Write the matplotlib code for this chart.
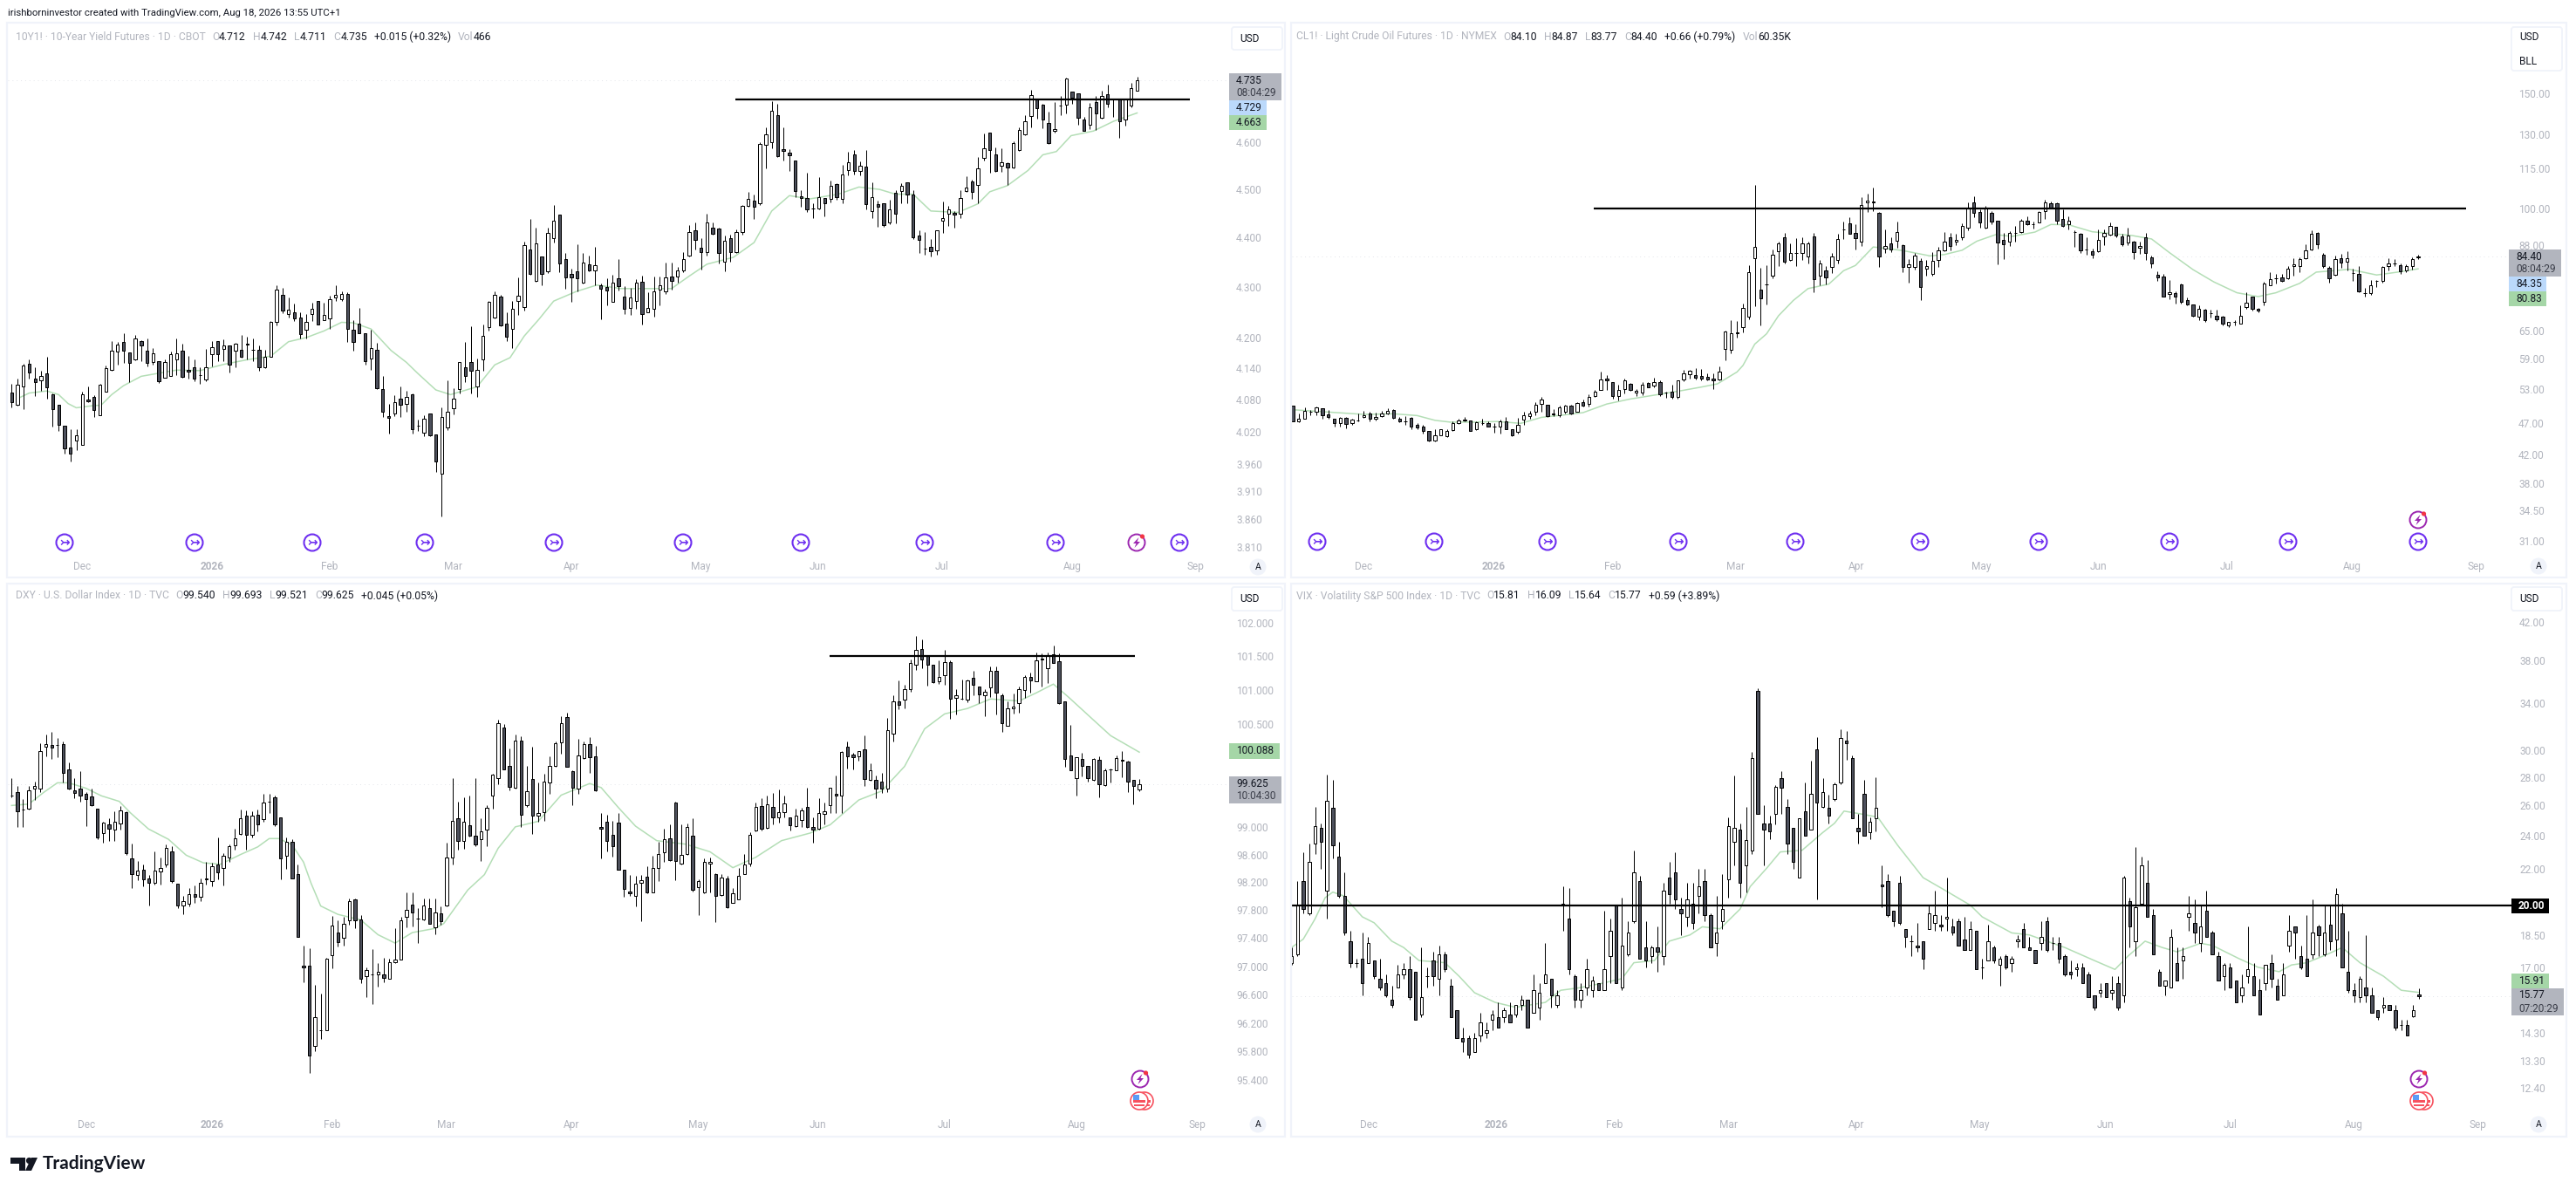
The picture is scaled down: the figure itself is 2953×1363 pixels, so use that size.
import numpy as np
import matplotlib
matplotlib.use('Agg')
import matplotlib.pyplot as plt
from matplotlib.patches import Circle, Rectangle, FancyBboxPatch, Polygon
from matplotlib.transforms import Affine2D
from matplotlib.ticker import NullFormatter, NullLocator

# candles: (open, high, low, close)
yield_bars = [
    (4.094,4.110,4.066,4.075),(4.071,4.121,4.069,4.109),(4.105,4.149,4.062,4.145),(4.149,4.158,4.120,4.133),
    (4.121,4.143,4.087,4.114),(4.117,4.135,4.098,4.126),(4.130,4.163,4.083,4.104),(4.091,4.093,4.029,4.062),
    (4.071,4.071,4.022,4.033),(4.032,4.032,3.980,3.989),(3.991,4.025,3.964,3.980),(4.004,4.024,3.985,4.014),
    (3.996,4.095,3.996,4.091),(4.081,4.105,4.075,4.078),(4.086,4.089,4.048,4.060),(4.051,4.111,4.051,4.109),
    (4.095,4.145,4.095,4.140),(4.138,4.193,4.136,4.174),(4.173,4.191,4.147,4.186),(4.191,4.208,4.151,4.175),
    (4.171,4.171,4.114,4.151),(4.158,4.205,4.156,4.199),(4.193,4.195,4.155,4.184),(4.174,4.199,4.144,4.151),
    (4.153,4.180,4.147,4.169),(4.154,4.154,4.112,4.115),(4.122,4.157,4.122,4.152),(4.126,4.172,4.126,4.168),
    (4.158,4.199,4.127,4.169),(4.174,4.188,4.123,4.124),(4.137,4.164,4.120,4.134),(4.143,4.158,4.115,4.121),
    (4.128,4.143,4.110,4.128),(4.119,4.178,4.116,4.143),(4.168,4.193,4.144,4.182),(4.193,4.193,4.154,4.168),
    (4.178,4.196,4.154,4.184),(4.184,4.185,4.133,4.148),(4.175,4.189,4.143,4.188),(4.176,4.205,4.161,4.163),
    (4.188,4.202,4.158,4.186),(4.176,4.198,4.154,4.176),(4.176,4.185,4.136,4.143),(4.143,4.176,4.141,4.162),
    (4.163,4.232,4.163,4.231),(4.230,4.304,4.224,4.295),(4.285,4.299,4.248,4.253),(4.247,4.279,4.239,4.255),
    (4.249,4.267,4.232,4.238),(4.240,4.250,4.198,4.207),(4.216,4.247,4.198,4.230),(4.247,4.269,4.233,4.257),
    (4.273,4.273,4.226,4.226),(4.235,4.268,4.234,4.245),(4.238,4.283,4.217,4.276),(4.280,4.304,4.272,4.285),
    (4.276,4.292,4.272,4.286),(4.287,4.290,4.192,4.217),(4.216,4.234,4.175,4.191),(4.228,4.258,4.208,4.209),
    (4.209,4.209,4.148,4.155),(4.159,4.216,4.137,4.179),(4.177,4.190,4.101,4.103),(4.101,4.125,4.048,4.057),
    (4.049,4.072,4.017,4.046),(4.055,4.089,4.049,4.076),(4.083,4.105,4.048,4.071),(4.073,4.098,4.058,4.086),
    (4.091,4.093,4.016,4.024),(4.031,4.043,4.022,4.031),(4.018,4.051,4.012,4.045),(4.054,4.055,4.012,4.014),
    (4.015,4.015,3.945,3.964),(3.943,4.066,3.865,4.047),(4.028,4.117,4.023,4.057),(4.064,4.102,4.052,4.083),
    (4.101,4.153,4.093,4.152),(4.142,4.192,4.114,4.125),(4.152,4.222,4.092,4.136),(4.105,4.160,4.085,4.138),
    (4.158,4.225,4.136,4.204),(4.221,4.273,4.214,4.271),(4.239,4.291,4.237,4.285),(4.281,4.285,4.223,4.224),
    (4.228,4.249,4.193,4.201),(4.217,4.272,4.180,4.257),(4.273,4.319,4.245,4.283),(4.261,4.392,4.253,4.385),
    (4.376,4.439,4.325,4.327),(4.312,4.420,4.311,4.388),(4.361,4.361,4.304,4.326),(4.331,4.420,4.329,4.409),
    (4.399,4.468,4.390,4.435),(4.447,4.447,4.330,4.348),(4.357,4.368,4.296,4.319),(4.326,4.337,4.270,4.319),
    (4.331,4.387,4.292,4.318),(4.309,4.368,4.307,4.350),(4.345,4.363,4.332,4.333),(4.333,4.381,4.304,4.344),
    (4.304,4.307,4.236,4.297),(4.300,4.318,4.264,4.293),(4.271,4.325,4.270,4.308),(4.317,4.357,4.294,4.302),
    (4.281,4.302,4.247,4.257),(4.259,4.298,4.245,4.279),(4.273,4.316,4.257,4.308),(4.311,4.323,4.226,4.247),
    (4.250,4.289,4.250,4.259),(4.256,4.321,4.241,4.292),(4.295,4.321,4.264,4.303),(4.291,4.350,4.287,4.319),
    (4.321,4.350,4.295,4.312),(4.322,4.341,4.308,4.334),(4.334,4.370,4.330,4.357),(4.364,4.426,4.362,4.412),
    (4.415,4.431,4.375,4.395),(4.379,4.399,4.335,4.370),(4.370,4.450,4.364,4.432),(4.421,4.432,4.406,4.408),
    (4.419,4.421,4.347,4.369),(4.351,4.405,4.332,4.394),(4.399,4.406,4.351,4.370),(4.370,4.417,4.369,4.412),
    (4.412,4.468,4.406,4.465),(4.465,4.494,4.463,4.480),(4.477,4.490,4.438,4.464),(4.471,4.600,4.467,4.597),
    (4.594,4.632,4.544,4.617),(4.600,4.689,4.587,4.668),(4.658,4.683,4.569,4.571),(4.586,4.632,4.561,4.581),
    (4.577,4.586,4.538,4.572),(4.561,4.561,4.484,4.496),(4.485,4.498,4.463,4.482),(4.482,4.536,4.453,4.458),
    (4.461,4.471,4.441,4.461),(4.461,4.525,4.459,4.484),(4.482,4.482,4.444,4.471),(4.480,4.519,4.473,4.507),
    (4.511,4.513,4.478,4.484),(4.480,4.552,4.471,4.532),(4.541,4.579,4.530,4.558),(4.573,4.583,4.532,4.538),
    (4.539,4.559,4.529,4.550),(4.548,4.583,4.458,4.469),(4.455,4.514,4.441,4.484),(4.469,4.476,4.423,4.463),
    (4.471,4.471,4.423,4.426),(4.432,4.478,4.428,4.458),(4.493,4.498,4.429,4.450),(4.496,4.513,4.471,4.507),
    (4.514,4.514,4.471,4.490),(4.489,4.498,4.397,4.400),(4.404,4.415,4.369,4.395),(4.378,4.412,4.365,4.378),
    (4.381,4.397,4.362,4.373),(4.374,4.415,4.366,4.415),(4.435,4.475,4.410,4.440),(4.449,4.465,4.425,4.458),
    (4.451,4.455,4.421,4.448),(4.450,4.498,4.441,4.482),(4.497,4.527,4.494,4.504),(4.517,4.521,4.480,4.495),
    (4.509,4.569,4.471,4.544),(4.567,4.618,4.561,4.587),(4.620,4.620,4.536,4.583),(4.574,4.588,4.537,4.538),
    (4.549,4.587,4.537,4.558),(4.555,4.557,4.510,4.547),(4.546,4.602,4.544,4.598),(4.583,4.632,4.581,4.626),
    (4.616,4.658,4.615,4.645),(4.656,4.713,4.632,4.702),(4.694,4.695,4.650,4.674),(4.681,4.682,4.630,4.648),
    (4.641,4.665,4.596,4.598),(4.624,4.686,4.621,4.629),(4.679,4.700,4.658,4.679),(4.681,4.741,4.662,4.739),
    (4.710,4.710,4.683,4.697),(4.706,4.706,4.638,4.652),(4.649,4.654,4.624,4.625),(4.637,4.685,4.629,4.675),
    (4.687,4.700,4.626,4.662),(4.652,4.712,4.650,4.700),(4.704,4.724,4.676,4.682),(4.693,4.695,4.654,4.693),
    (4.693,4.693,4.610,4.645),(4.648,4.693,4.636,4.693),(4.679,4.728,4.676,4.717),(4.712,4.742,4.711,4.735),
]
yield_ema_x = [1.5,3,6,8,9.6,11,13.8,15.2,17,19,22,25,28,32,36,40,44,47,50,53,56,58,61,64.4,67,69,72,74.5,79,82,84.6,87,89.5,92,95.8,99.3,103.5,107,
               112,115,118,122.5,126,129,132,135.4,140.3,143.8,147.3,150,153,156,160.6,164,166,169,172.5,175,177.3,179.8,183.6,187,191]
yield_ema = [4.085,4.093,4.097,4.090,4.073,4.065,4.069,4.070,4.090,4.107,4.125,4.131,4.137,4.136,4.148,4.157,4.164,4.192,4.200,4.213,4.230,4.229,4.217,4.175,4.152,4.130,4.099,4.090,4.105,4.147,4.161,4.203,4.236,4.272,4.291,4.304,4.297,4.297,
             4.297,4.322,4.346,4.36,4.39,4.455,4.487,4.48,4.49,4.505,4.50,4.49,4.49,4.455,4.452,4.47,4.495,4.508,4.54,4.573,4.58,4.614,4.624,4.645,4.663]

oil_bars = [
    (49.9,49.9,47.2,47.3),(47.3,48.6,47.1,47.6),(47.6,49.6,47.6,49.0),(48.8,49.2,48.3,48.9),(48.8,49.8,48.3,49.6),
    (49.4,49.5,47.7,48.2),(48.4,49.1,47.6,47.9),(47.7,47.7,46.4,47.0),(47.0,48.0,46.4,47.8),(47.8,47.9,46.1,46.8),
    (47.0,47.7,46.7,47.5),(47.4,48.5,47.2,47.4),(48.0,49.0,47.8,48.2),(48.6,48.8,47.2,47.6),(47.6,48.7,47.4,48.0),
    (48.1,49.0,48.0,48.6),(48.6,49.5,48.4,49.0),(49.1,49.3,47.7,47.8),(47.7,47.9,47.1,47.2),(47.3,48.1,46.6,47.3),
    (47.8,47.9,46.0,46.4),(46.7,46.9,46.0,46.2),(46.4,46.6,45.3,45.7),(45.6,45.6,44.0,44.2),(44.1,46.0,44.0,44.9),
    (45.0,46.0,44.9,45.9),(44.8,46.0,44.7,45.6),(45.8,47.2,45.6,47.0),(47.0,47.7,46.8,47.4),(47.4,47.9,47.2,47.5),
    (47.4,47.4,45.7,45.7),(45.9,47.3,45.8,47.1),(47.0,47.7,46.7,47.0),(47.0,47.3,46.3,46.4),(46.4,47.0,45.4,46.4),
    (46.4,47.5,45.3,47.3),(47.3,47.9,45.9,46.0),(46.0,46.0,44.8,44.9),(45.5,47.8,45.2,46.7),(47.5,48.9,46.7,48.2),
    (48.1,49.0,47.6,48.6),(48.9,50.5,48.3,50.1),(50.2,51.4,48.9,51.0),(50.1,50.1,48.0,48.1),(48.6,49.3,48.1,48.4),
    (48.2,49.9,47.9,49.6),(48.9,50.1,48.6,49.9),(49.9,50.0,48.4,48.6),(48.9,50.5,48.8,50.4),(50.5,51.0,49.8,49.9),
    (50.3,52.0,49.8,51.5),(51.7,52.8,51.4,52.4),(52.8,56.2,52.7,54.8),(54.9,55.6,52.8,54.5),(54.3,54.3,51.2,51.6),
    (51.7,53.8,50.9,52.7),(53.0,54.9,52.1,54.5),(53.9,54.1,52.6,52.8),(52.2,53.0,51.6,52.6),(52.3,54.3,51.8,53.8),
    (54.0,54.2,53.2,53.3),(53.5,55.1,53.2,54.2),(54.3,54.5,51.7,52.0),(52.2,52.4,51.3,52.2),(52.5,53.7,51.2,51.5),
    (51.4,54.6,51.2,54.5),(54.7,56.7,54.4,55.9),(55.8,56.7,54.9,56.4),(55.6,56.9,54.7,55.1),(55.5,56.8,54.6,54.9),
    (55.3,55.9,54.6,54.7),(54.9,56.0,53.0,54.5),(54.8,57.3,54.5,56.2),(60.9,65.1,58.6,64.8),(60.8,67.4,60.0,64.4),
    (64.6,67.2,63.5,64.5),(65.8,71.5,64.7,70.5),(68.2,81.8,67.6,79.9),(84.0,108.7,70.9,87.3),(75.2,81.2,66.3,72.8),
    (76.6,81.9,71.2,76.6),(78.9,86.5,78.3,85.0),(86.0,89.0,81.5,88.4),(90.4,91.8,82.3,82.9),(83.5,88.4,83.2,85.5),
    (85.5,90.0,81.5,85.5),(85.5,90.4,83.4,88.3),(84.5,89.0,82.5,88.3),(90.7,91.8,74.5,78.0),(78.9,83.5,76.4,82.5),
    (80.4,81.6,76.6,78.5),(81.3,85.5,79.6,84.5),(83.4,91.4,82.4,89.7),(92.9,95.6,89.8,92.9),(95.0,97.0,91.4,91.5),
    (91.7,94.7,86.6,90.0),(89.0,104.1,87.5,101.3),(102.2,105.3,98.8,102.8),(102.6,107.7,99.2,102.2),(98.6,98.9,81.3,84.5),
    (86.7,92.8,85.5,87.7),(88.3,90.3,85.7,86.5),(89.1,95.6,87.0,92.0),(88.0,88.1,80.0,81.3),(81.3,83.6,77.1,82.0),
    (81.3,85.6,80.7,84.6),(83.2,84.0,72.4,75.9),(80.8,83.3,79.0,81.7),(79.4,85.8,79.0,83.2),(83.4,87.3,81.3,86.3),
    (86.3,92.0,85.9,89.0),(90.2,91.6,86.3,87.7),(89.0,91.5,88.0,89.6),(90.2,94.8,89.6,93.9),(93.5,102.1,92.5,100.0),
    (102.3,104.4,97.1,98.4),(98.7,99.7,93.3,95.3),(93.4,100.8,93.2,100.0),(98.4,99.2,94.7,95.6),(95.9,95.9,82.2,88.7),
    (89.6,91.7,83.6,88.2),(88.9,92.3,87.6,91.7),(91.7,94.0,88.9,91.7),(92.0,96.5,91.7,95.8),(95.8,97.3,94.3,94.5),
    (94.6,95.6,93.2,94.6),(95.3,99.2,95.1,98.7),(99.2,103.0,96.5,102.0),(101.7,102.4,100.0,100.2),(101.7,102.0,94.7,95.9),
    (96.4,99.7,93.6,93.9),(94.6,97.3,92.9,95.8),(92.0,92.6,87.3,92.0),(91.5,91.7,85.6,86.3),(86.5,90.2,85.0,86.5),
    (86.0,86.7,84.0,85.0),(86.0,92.9,85.7,89.6),(90.5,92.9,88.0,91.6),(91.2,95.2,91.0,93.9),(93.7,93.7,90.2,90.9),
    (90.5,91.5,87.7,88.2),(88.8,93.4,88.0,90.9),(88.9,89.3,83.7,85.7),(87.0,89.0,85.3,87.7),(90.2,91.6,83.4,85.4),
    (84.2,84.8,81.0,82.3),(79.1,80.2,77.4,78.4),(78.7,79.4,73.2,73.4),(74.0,77.7,72.6,74.5),(74.2,74.7,71.5,73.2),
    (76.5,76.8,71.6,72.0),(72.3,73.0,71.0,71.4),(71.4,71.4,68.4,68.6),(68.2,71.0,67.4,70.2),(69.9,70.2,67.1,67.5),
    (69.2,69.9,68.1,69.2),(68.6,70.0,67.3,67.7),(68.2,68.5,66.3,66.7),(66.3,67.1,65.8,67.0),(67.0,67.5,66.3,67.0),
    (66.7,71.0,66.6,68.6),(70.6,74.5,70.2,71.8),(73.2,73.4,69.8,70.3),(70.2,70.5,69.4,69.7),(72.0,77.2,71.0,76.7),
    (76.3,80.0,76.2,77.9),(78.2,79.4,76.8,78.2),(78.5,79.5,77.2,77.4),(78.2,81.5,77.9,80.9),(81.6,84.0,79.0,82.1),
    (81.6,84.2,80.0,83.6),(84.0,88.1,83.6,86.2),(86.6,92.7,86.3,91.4),(91.7,92.1,86.7,88.2),(85.0,85.4,81.0,81.6),
    (81.0,81.5,77.0,78.3),(79.2,84.6,79.0,83.6),(83.9,85.2,81.0,82.6),(83.0,86.1,80.4,83.9),(79.6,80.9,77.5,79.6),
    (79.5,81.6,74.5,74.7),(74.2,75.6,73.4,74.2),(74.2,77.7,73.7,76.4),(77.4,77.7,75.8,77.4),(77.5,81.7,77.0,81.3),
    (81.5,84.0,80.4,82.3),(82.4,83.6,81.7,82.4),(81.8,82.5,79.5,80.2),(80.3,82.0,79.9,81.6),(81.6,84.2,80.7,83.6),
    (84.10,84.87,83.77,84.40),
]
oil_ema_x = [0,6,12,17,21,24,26.6,30.6,34.5,38.5,42,45.7,49,53,57,62.2,66,69,71.7,75,76,78,80,82,84.5,87,90.5,93,95,98,100,
             103,107.6,110,113,115.5,118.7,121.4,125.3,128,131,135,141.7,145,148,152,155.5,159.4,163,166,170,172.8,175,178.4,183,187,190]
oil_ema = [49.2,48.8,48.4,48.5,48.2,47.4,47.1,47.1,47.2,46.9,47.9,48.3,48.7,50.2,51.1,52.0,52.7,53.3,53.9,56.2,57.5,62.0,64.3,68.5,72.3,75.4,76.6,80.3,81.8,87.3,86.9,
           86.2,84.6,85.0,86.3,89.1,91.2,90.6,92.0,94.5,94.4,92.1,90.9,89.8,85.6,80.6,77.2,74.3,73.3,74.3,76.8,79.9,80.2,80.7,79.1,80.0,80.83]

dxy_bars = [
    (99.46,99.71,99.43,99.46),(99.50,99.59,99.00,99.22),(99.25,99.40,99.00,99.25),(99.26,99.59,99.25,99.53),(99.56,99.66,99.39,99.59),
    (99.56,100.22,99.50,100.10),(100.17,100.35,100.03,100.20),(100.19,100.38,99.99,100.15),(100.19,100.30,100.01,100.19),(100.20,100.25,99.65,99.78),
    (99.83,99.94,99.54,99.56),(99.53,99.71,99.41,99.49),(99.55,99.81,99.36,99.46),(99.48,99.51,99.01,99.40),(99.44,99.55,99.30,99.32),
    (99.27,99.27,98.82,98.85),(98.91,99.08,98.77,99.06),(99.03,99.12,98.80,98.97),(98.96,99.22,98.79,99.08),(99.05,99.30,98.96,99.24),
    (99.21,99.22,98.59,98.62),(98.54,98.76,98.12,98.32),(98.30,98.51,98.23,98.37),(98.38,98.46,98.14,98.24),(98.25,98.31,97.87,98.19),
    (98.19,98.64,98.17,98.37),(98.36,98.56,98.17,98.40),(98.45,98.74,98.42,98.70),(98.65,98.72,98.19,98.22),(98.18,98.18,97.83,97.87),
    (97.87,98.00,97.74,97.93),(97.89,98.12,97.86,98.03),(98.03,98.16,97.90,97.99),(97.99,98.25,97.93,98.19),(98.24,98.49,98.17,98.26),
    (98.22,98.48,98.14,98.43),(98.46,98.85,98.24,98.34),(98.40,98.62,98.16,98.58),(98.56,98.75,98.49,98.72),(98.73,98.97,98.67,98.83),
    (98.90,99.25,98.88,99.12),(99.16,99.24,98.67,98.88),(98.88,99.22,98.85,99.16),(99.17,99.25,98.93,99.04),(99.11,99.48,99.08,99.35),
    (99.36,99.48,99.20,99.36),(99.43,99.45,99.01,99.03),(99.14,99.14,98.24,98.55),(98.58,98.85,98.39,98.78),(98.78,98.82,98.25,98.25),
    (98.32,98.46,97.42,97.42),(97.01,97.30,96.77,96.98),(97.01,97.26,95.50,95.74),(95.88,96.74,95.80,96.28),(96.10,96.61,95.97,96.10),
    (96.10,97.12,96.10,97.11),(97.16,97.72,96.97,97.58),(97.48,97.66,97.28,97.35),(97.40,97.71,97.29,97.61),(97.65,97.97,97.59,97.93),
    (97.95,97.97,97.54,97.65),(97.67,97.73,96.76,96.82),(96.86,96.98,96.57,96.95),(96.88,97.25,96.46,96.88),(96.88,97.04,96.71,96.92),
    (96.89,97.12,96.77,96.83),(96.82,97.11,96.82,97.06),(97.06,97.54,97.04,97.09),(97.10,97.71,97.09,97.66),(97.71,98.06,97.56,97.80),
    (97.88,98.06,97.57,97.77),(97.68,97.83,97.33,97.68),(97.67,97.97,97.66,97.87),(97.83,97.97,97.60,97.61),(97.56,97.97,97.46,97.77),
    (97.75,97.85,97.59,97.64),(97.87,98.77,97.86,98.56),(98.56,99.71,98.46,99.09),(99.12,99.37,98.67,98.79),(98.79,99.43,98.68,99.07),
    (99.02,99.46,98.86,98.87),(98.87,99.71,98.72,98.74),(98.82,99.12,98.51,98.93),(98.96,99.32,98.72,99.28),(99.46,99.77,99.27,99.76),
    (99.71,100.57,99.62,100.51),(100.45,100.50,99.83,99.84),(99.89,100.14,99.53,99.58),(99.57,100.35,99.56,100.26),(100.26,100.32,99.00,99.17),
    (99.31,99.89,99.29,99.52),(99.70,100.17,98.90,99.16),(99.16,99.65,99.08,99.20),(99.21,99.77,99.09,99.66),(99.65,100.03,99.48,99.89),
    (99.89,100.24,99.88,100.22),(100.23,100.62,100.07,100.51),(100.60,100.67,99.87,99.88),(99.81,99.82,99.32,99.57),(99.56,100.28,99.48,100.04),
    (100.00,100.25,99.99,100.20),(100.20,100.31,99.78,100.02),(100.03,100.18,99.52,99.53),(99.00,99.20,98.54,98.97),(99.07,99.18,98.65,98.80),
    (98.88,99.09,98.57,98.72),(99.06,99.20,98.38,98.38),(98.38,98.38,97.99,98.10),(98.07,98.30,98.01,98.04),(98.01,98.29,97.85,98.18),
    (98.19,98.30,97.64,98.23),(98.28,98.43,98.04,98.05),(98.06,98.58,98.06,98.41),(98.41,98.78,98.22,98.61),(98.63,98.97,98.49,98.82),
    (98.83,99.03,98.51,98.52),(99.35,99.37,98.23,98.51),(98.47,99.03,98.46,98.60),(98.61,99.05,98.60,99.00),(98.87,99.12,98.07,98.09),
    (98.13,98.24,97.73,98.22),(98.05,98.55,98.04,98.49),(98.47,98.56,98.05,98.50),(98.32,98.33,97.63,98.01),(98.02,98.32,98.01,98.27),
    (98.26,98.29,97.83,97.84),(97.91,98.12,97.90,98.04),(97.96,98.41,97.96,98.29),(98.32,98.61,98.32,98.46),(98.47,98.92,98.43,98.88),
    (98.95,99.35,98.94,99.29),(99.30,99.41,98.95,98.97),(98.98,99.46,98.97,99.33),(99.29,99.49,99.03,99.14),(99.14,99.54,99.06,99.21),
    (99.21,99.45,99.14,99.34),(99.14,99.14,98.95,99.02),(99.01,99.26,99.00,99.16),(99.10,99.28,99.00,99.24),(99.29,99.57,98.99,99.00),
    (99.00,99.14,98.77,98.96),(98.97,99.41,98.96,99.20),(99.19,99.35,99.03,99.23),(99.31,99.57,99.20,99.57),(99.48,99.75,99.20,99.45),
    (99.45,100.11,99.20,100.09),(100.17,100.24,99.85,100.03),(100.05,100.08,99.84,100.02),(100.03,100.11,99.96,100.10),(100.13,100.33,99.60,99.69),
    (99.68,99.92,99.67,99.82),(99.68,99.75,99.41,99.55),(99.66,99.79,99.49,99.55),(99.55,100.59,99.51,100.41),(100.36,100.93,100.24,100.83),
    (100.83,101.14,100.72,100.78),(100.86,101.08,100.73,101.01),(101.02,101.45,100.98,101.40),(101.38,101.81,101.30,101.60),(101.61,101.75,101.32,101.45),
    (101.51,101.52,101.07,101.38),(101.38,101.38,101.11,101.12),(101.13,101.44,101.09,101.19),(101.22,101.60,101.08,101.42),(101.42,101.44,100.58,100.87),
    (100.89,101.02,100.64,100.93),(100.87,101.16,100.86,100.87),(100.86,101.16,100.82,101.14),(101.18,101.29,100.93,101.08),(101.05,101.05,100.81,100.94),
    (100.93,101.02,100.62,100.98),(101.04,101.35,100.90,101.29),(101.29,101.35,100.64,100.96),(100.93,100.95,100.38,100.51),(100.48,100.84,100.47,100.73),
    (100.73,100.95,100.65,100.76),(100.81,101.05,100.67,101.01),(101.00,101.22,100.88,101.20),(101.20,101.26,100.96,101.15),(101.13,101.56,101.13,101.44),
    (101.47,101.54,101.05,101.45),(101.32,101.56,101.11,101.52),(101.53,101.66,101.40,101.40),(101.43,101.54,100.79,100.81),(100.83,100.83,99.88,99.99),
    (100.04,100.49,99.82,99.82),(99.71,100.01,99.45,100.01),(99.99,100.08,99.73,99.89),(99.89,99.89,99.66,99.71),(99.68,100.00,99.67,99.99),
    (99.97,100.03,99.43,99.62),(99.61,99.85,99.60,99.82),(99.84,99.85,99.65,99.84),(99.82,100.04,99.82,100.00),(99.97,100.10,99.72,99.96),
    (99.95,99.96,99.50,99.66),(99.68,99.68,99.33,99.59),(99.540,99.693,99.521,99.625),
]
dxy_ema_x = [0,3,5.6,8,10,13,15.7,18.8,20.8,23.9,27.4,30.5,33.5,36.5,40,43,45,46.7,49,51,52.3,54,57,61,64,67,70,74,
             75.5,79.7,82.6,85,88,92,96,101,103,106,109,112.7,117.7,122,126,130,134.5,139.5,143,148,152,156,159.5,163,167,171,176,179,182,184.6,189,192,197]
dxy_ema = [99.31,99.33,99.50,99.64,99.64,99.56,99.45,99.37,99.20,98.97,98.82,98.59,98.48,98.46,98.60,98.71,98.83,98.83,98.74,98.49,98.19,97.86,97.74,97.66,97.45,97.33,97.48,97.54,
           97.61,98.09,98.31,98.69,99.0,99.08,99.46,99.63,99.57,99.28,99.01,98.80,98.75,98.64,98.41,98.56,98.80,98.91,99.03,99.39,99.52,99.88,100.43,100.65,100.73,100.87,100.84,100.96,101.09,100.90,100.56,100.33,100.088]

vix_bars = [
    (17.2,17.9,17.1,17.5),(17.6,21.3,17.5,20.0),(21.3,23.0,19.6,19.8),(19.6,23.5,19.5,22.4),(23.5,25.9,22.9,24.6),(24.5,24.8,22.0,23.6),
    (20.8,28.2,19.3,26.3),(25.8,27.8,22.6,23.4),(22.7,23.6,20.4,20.5),(20.5,21.8,18.5,18.6),(18.2,18.7,17.0,17.2),(17.2,17.4,17.0,17.2),
    (17.4,18.6,15.8,16.3),(17.2,18.4,17.2,18.1),(17.3,17.3,16.5,16.6),(16.5,17.4,16.0,16.1),(16.3,16.7,15.7,15.8),(15.6,16.2,15.3,15.4),
    (16.1,17.1,16.1,16.7),(16.7,17.2,16.5,16.9),(16.9,17.5,15.6,15.7),(16.8,16.8,14.8,14.8),(15.0,17.9,14.9,15.7),(16.6,17.0,16.1,16.6),
    (17.3,17.7,16.2,16.6),(16.5,18.0,15.8,17.6),(17.6,17.7,16.8,16.9),(16.2,16.5,14.9,14.9),(15.2,15.2,14.1,14.1),(14.1,14.5,13.6,14.0),
    (14.1,14.2,13.4,13.5),(13.6,14.3,13.6,14.1),(14.2,15.1,14.0,14.7),(14.3,14.7,14.1,14.4),(14.8,15.2,14.4,15.0),(14.9,15.5,14.5,14.5),
    (14.9,15.3,14.7,15.2),(15.0,15.5,14.7,14.7),(15.0,15.4,14.9,15.4),(15.4,15.8,15.2,15.6),(15.6,15.6,14.5,14.5),(15.1,16.7,15.1,16.0),
    (15.3,16.3,14.8,15.9),(16.3,18.1,16.3,16.7),(16.5,16.5,15.3,15.8),(15.4,16.0,15.3,15.8),(20.0,21.0,18.7,20.1),(19.3,20.9,16.7,16.9),
    (16.6,16.7,15.3,15.6),(15.6,16.3,15.3,16.0),(16.1,17.4,15.8,16.9),(16.0,16.6,15.7,16.4),(16.3,16.3,16.0,16.0),(16.0,19.7,16.0,16.9),
    (17.5,19.3,16.3,18.7),(20.0,20.0,16.3,16.3),(16.1,20.4,16.0,18.0),(17.6,19.2,17.5,18.6),(19.2,23.1,19.1,21.8),(21.3,21.6,17.4,17.4),
    (17.9,19.2,17.0,17.3),(17.5,18.0,17.2,17.9),(17.9,18.9,16.8,17.7),(17.5,21.2,17.1,20.8),(21.5,22.4,20.1,20.6),(21.8,23.0,19.8,20.3),
    (19.8,20.4,18.5,19.6),(19.4,21.2,18.9,20.3),(20.1,21.2,18.8,19.1),(20.5,22.0,19.6,21.0),(21.3,22.0,19.2,19.5),(19.5,19.6,17.9,17.9),
    (18.1,20.5,17.5,18.6),(19.2,21.7,18.8,19.8),(21.4,25.2,20.4,24.6),(23.6,28.1,22.2,24.5),(24.4,24.8,20.4,21.2),(22.2,25.9,20.7,23.7),
    (23.1,29.9,22.9,29.4),(35.1,35.3,25.4,25.4),(24.8,26.0,22.2,24.4),(24.8,25.3,23.8,24.3),(25.4,27.4,24.7,27.3),(27.9,28.4,25.4,27.2),
    (25.9,26.4,22.9,23.5),(24.5,24.5,22.0,22.4),(21.5,25.1,21.5,25.1),(25.6,27.6,24.0,24.0),(24.4,29.2,24.4,26.8),(30.1,31.1,20.3,26.2),
    (25.9,27.9,25.8,26.9),(25.8,26.7,24.8,25.3),(26.4,27.6,26.3,27.5),(27.6,31.7,27.5,31.0),(30.8,31.6,29.3,30.6),(29.4,29.6,25.1,25.1),
    (24.5,25.4,23.5,24.3),(26.8,27.8,24.0,24.0),(24.2,25.2,23.8,24.9),(25.1,28.0,24.3,25.8),(21.1,22.2,19.9,21.0),(21.3,21.7,19.4,19.5),
    (19.7,19.7,18.9,19.2),(21.2,21.6,19.0,19.1),(18.8,18.8,17.9,18.4),(18.2,18.5,17.5,18.2),(18.0,19.1,17.7,17.9),(18.2,18.2,16.9,17.4),
    (18.8,20.0,18.8,19.6),(19.1,20.8,18.7,19.5),(19.0,19.5,18.7,18.9),(19.3,21.5,18.7,19.4),(18.9,19.3,18.5,18.6),(19.2,19.3,18.0,18.0),
    (18.3,19.4,17.8,17.8),(17.8,19.2,17.8,18.8),(18.7,18.7,16.9,16.9),(17.0,17.4,16.5,17.0),(17.3,19.0,17.3,18.2),(17.9,18.0,17.2,17.3),
    (17.1,17.5,16.2,17.4),(17.5,17.6,16.9,17.0),(17.2,17.5,16.8,17.4),(18.2,18.5,17.9,18.3),(18.8,19.1,17.9,17.9),(17.9,18.4,17.8,17.8),
    (17.8,17.8,17.2,17.2),(18.1,19.2,17.8,18.4),(19.2,19.4,17.7,17.8),(18.1,18.4,17.8,18.1),(18.1,18.4,17.2,17.4),(17.5,17.6,16.6,16.7),
    (16.8,17.3,16.5,16.7),(16.9,17.2,16.6,17.0),(17.0,17.2,16.3,16.3),(16.7,16.8,15.7,15.7),(15.8,15.8,15.2,15.3),(15.9,16.3,15.7,16.0),
    (16.3,16.3,15.7,15.7),(15.9,16.6,15.6,16.0),(16.3,16.6,15.2,15.3),(15.8,21.6,15.5,21.5),(20.2,20.4,17.9,18.9),(18.2,23.3,17.5,19.9),
    (20.1,22.7,20.1,22.2),(21.2,22.5,19.4,19.4),(19.5,19.8,17.6,17.6),(16.8,16.9,16.2,16.2),(16.2,16.4,15.8,16.4),(16.1,18.8,16.1,18.4),
    (17.2,17.9,16.4,16.4),(17.3,17.9,16.5,17.5),(19.4,20.5,18.7,19.6),(19.1,20.3,18.1,18.6),(18.1,20.0,17.7,18.9),(19.7,20.8,18.4,18.4),
    (18.6,18.7,17.6,17.6),(17.5,17.7,16.4,16.4),(16.6,17.2,16.0,17.1),(17.0,17.2,16.1,16.1),(16.4,16.4,15.5,15.5),(15.8,16.7,15.5,16.1),
    (16.6,18.9,16.3,16.9),(16.6,17.2,15.8,15.8),(16.0,16.5,15.0,15.0),(16.3,17.1,16.0,17.1),(17.2,17.6,16.1,16.5),(16.2,16.5,15.6,15.6),
    (15.8,17.2,15.8,16.7),(18.0,19.5,17.7,18.7),(18.9,18.9,17.4,18.6),(17.5,18.0,16.9,17.0),(17.4,19.5,16.6,16.6),(17.6,20.3,17.4,18.6),
    (18.9,19.0,17.5,18.5),(17.6,20.0,17.5,18.6),(19.0,20.0,17.8,18.2),(18.3,20.9,17.5,20.6),(19.6,20.1,17.0,17.0),(16.8,18.7,15.9,16.0),
    (16.0,16.3,15.5,15.8),(15.7,16.6,15.5,16.5),(16.1,18.5,15.5,15.8),(15.8,16.1,15.1,15.1),(15.2,15.2,14.8,14.9),(15.3,15.7,15.1,15.4),
    (15.4,15.4,15.2,15.2),(15.2,15.4,14.4,14.5),(14.6,14.8,14.4,14.6),(14.6,14.8,14.2,14.2),(14.95,15.4,14.9,15.18),(15.81,16.09,15.64,15.77),
]
vix_ema_x = [0,2,4,5.7,7,8.8,12,14,17,19,21.6,26,28.4,31,34.5,38,40.5,43,45.6,48.6,52.7,56,58,61.5,64,67.5,69.6,72.6,76,77.7,80.4,82.8,86.5,90,92,93.6,96.6,99.3,102.7,
             107,110.7,115,117,122,125,131,136,139.5,141.7,144.6,147.5,150,154,156,160.4,163.7,167.3,169.4,172,175.6,178,181,185,188,191]
vix_ema = [17.9,18.3,19.3,20.4,20.7,20.5,19.4,19.1,18.2,17.9,17.3,17.2,16.6,15.9,15.5,15.3,15.4,15.5,16.0,16.1,16.3,16.5,17.2,17.3,18.2,18.5,18.9,18.8,19.8,21.0,22.0,23.0,23.1,24.2,24.8,25.6,25.4,25.2,23.4,
           21.5,20.8,20.0,19.4,18.6,18.5,17.9,17.3,16.9,17.5,18.2,17.9,17.7,18.1,18.0,17.4,17.0,16.8,17.1,17.2,17.6,17.9,17.2,16.6,16.0,15.91]

months = ['Dec', '2026', 'Feb', 'Mar', 'Apr', 'May', 'Jun', 'Jul', 'Aug', 'Sep']

yield_ticks = [4.6, 4.5, 4.4, 4.3, 4.2, 4.14, 4.08, 4.02, 3.96, 3.91, 3.86, 3.81]
oil_ticks = [150, 130, 115, 100, 88, 65, 59, 53, 47, 42, 38, 34.5, 31]
dxy_ticks = [102, 101.5, 101, 100.5, 99, 98.6, 98.2, 97.8, 97.4, 97, 96.6, 96.2, 95.8, 95.4]
vix_ticks = [42, 38, 34, 30, 28, 26, 24, 22, 18.5, 17, 14.3, 13.3, 12.4]

yield_level = 4.693
oil_level = 100
dxy_level = 101.5
vix_level = 20

yield_title = [('10Y1! · 10-Year Yield Futures · 1D · CBOT', 0, 7), ('O', 0, 0), ('4.712', 1, 8), ('H', 0, 0), ('4.742', 1, 8), ('L', 0, 0), ('4.711', 1, 8),
               ('C', 0, 0), ('4.735', 1, 8), ('+0.015 (+0.32%)', 1, 8), ('Vol', 0, 0), ('466', 1, 0)]
oil_title = [('CL1! · Light Crude Oil Futures · 1D · NYMEX', 0, 7), ('O', 0, 0), ('84.10', 1, 8), ('H', 0, 0), ('84.87', 1, 8), ('L', 0, 0), ('83.77', 1, 8),
             ('C', 0, 0), ('84.40', 1, 8), ('+0.66 (+0.79%)', 1, 8), ('Vol', 0, 0), ('60.35K', 1, 0)]
dxy_title = [('DXY · U.S. Dollar Index · 1D · TVC', 0, 7), ('O', 0, 0), ('99.540', 1, 8), ('H', 0, 0), ('99.693', 1, 8), ('L', 0, 0), ('99.521', 1, 8),
             ('C', 0, 0), ('99.625', 1, 8), ('+0.045 (+0.05%)', 1, 0)]
vix_title = [('VIX · Volatility S&P 500 Index · 1D · TVC', 0, 7), ('O', 0, 0), ('15.81', 1, 8), ('H', 0, 0), ('16.09', 1, 8), ('L', 0, 0), ('15.64', 1, 8),
             ('C', 0, 0), ('15.77', 1, 8), ('+0.59 (+3.89%)', 1, 0)]

W, H = 2953, 1363
GREY = '#b2b5be'
INK = '#131722'
LINE = '#f0f3fa'
FONT = 'Roboto'
FS = 8.6

plt.rcParams['font.family'] = [FONT, 'DejaVu Sans']
fig = plt.figure(figsize=(W / 100, H / 100), dpi=100, facecolor='white')
# screen pixels, y going down like the screenshot
px = Affine2D().scale(1, -1).translate(0, H)


def text(x, y, s, **kw):
    kw.setdefault('fontsize', FS)
    kw.setdefault('color', INK)
    kw.setdefault('va', 'center')
    return fig.text(x, y, s, transform=px, **kw)


def rect(x0, y0, x1, y1, **kw):
    fig.add_artist(Rectangle((x0, y0), x1 - x0, y1 - y0, transform=px, **kw))


def title_row(x, y, parts):
    rend = fig.canvas.get_renderer()
    for s, dark, gap in parts:
        t = text(x, y, s, color=INK if dark else GREY, fontsize=8.7)
        x = t.get_window_extent(rend).x1 + gap


def arrow_icon(x, y):
    fig.add_artist(Circle((x, y), 9.5, transform=px, fc='white', ec='#6e2ff0', lw=1.5))
    text(x, y, '↣', color='#6e2ff0', fontsize=10, ha='center', family='DejaVu Sans', fontweight='bold')


def bolt_icon(x, y):
    fig.add_artist(Circle((x, y), 9.5, transform=px, fc='white', ec='#9c27b0', lw=1.4))
    bolt = [(x + 2.5, y - 6), (x - 4, y + 1), (x - 0.5, y + 1), (x - 2.5, y + 6), (x + 4, y - 1), (x + 0.5, y - 1)]
    fig.add_artist(Polygon(bolt, transform=px, fc='#9c27b0', ec='none'))
    fig.add_artist(Circle((x + 6.5, y - 7), 2.6, transform=px, fc='#f23645', ec='none'))


def flag_icon(x, y):
    for dx in (6, 0):
        fig.add_artist(Circle((x + dx, y), 10, transform=px, fc='white', ec='#f7525f', lw=1.2))
        rect(x + dx - 7, y - 1, x + dx + 7, y + 1.5, fc='#f7525f', ec='none')
        rect(x + dx - 6, y + 4, x + dx + 6, y + 6, fc='#f7525f', ec='none')
    rect(x - 7, y - 7, x, y - 1, fc='#5b9cf6', ec='none')


def panel(box, frame, bars, first_px, last_px, anchors, ticks, fmt, month_px, ema_x, ema, last, level, level_px):
    x0, y0, x1, y1 = box
    rect(frame[0], frame[1], frame[2], frame[3], fc='none', ec=LINE, lw=1.6)
    ax = fig.add_axes([x0 / W, 1 - y1 / H, (x1 - x0) / W, (y1 - y0) / H])
    ax.patch.set_alpha(0)
    for s in ax.spines.values():
        s.set_visible(False)

    o, h, l, c = np.array(bars).T
    xs = np.arange(len(o))
    step = (last_px - first_px) / (len(o) - 1)
    to_x = lambda p: (np.asarray(p, dtype=float) - first_px) / step

    (p1, y_1), (p2, y_2) = anchors
    k = np.log(p1 / p2) / (y_2 - y_1)
    to_price = lambda y: p1 * np.exp((y_1 - y) * k)

    ax.set_yscale('log')
    ax.set_xlim(to_x(x0), to_x(x1))
    ax.set_ylim(to_price(y1), to_price(y0))

    ax.axhline(last, color='#e3e5ea', lw=0.7, ls=(0, (1, 4)), zorder=1)
    ax.plot(ema_x, ema, color='#b4deb6', lw=1.1, zorder=2)
    ax.vlines(xs, l, h, color='black', lw=0.72, zorder=3)
    up = c >= o
    ax.bar(xs, np.abs(c - o), bottom=np.minimum(o, c), width=3.4 / step,
           color=np.where(up, 'white', '#4d505c'), edgecolor='black', linewidth=0.72, zorder=4)

    if level_px is None:
        ax.axhline(level, color='black', lw=1.6, zorder=5)
    else:
        ax.plot(to_x(level_px), [level, level], color='black', lw=1.6, zorder=5, solid_capstyle='butt')

    ax.yaxis.tick_right()
    ax.set_yticks(ticks)
    ax.set_yticklabels([fmt % t for t in ticks])
    ax.yaxis.set_minor_locator(NullLocator())
    ax.yaxis.set_minor_formatter(NullFormatter())
    ax.set_xticks(to_x(month_px))
    ax.set_xticklabels(months)
    ax.tick_params(axis='y', which='both', length=0, pad=6.5, labelcolor=GREY, labelsize=FS)
    ax.tick_params(axis='x', length=0, pad=3.6, labelcolor=GREY, labelsize=FS)
    ax.get_xticklabels()[1].set_fontweight('bold')
    return ax


# top left
panel((9, 28, 1408, 638), (8, 26, 1473, 662), yield_bars, 13.2, 1303.5, ((4.6, 163), (3.81, 627)), yield_ticks, '%.3f',
      [94, 243, 378, 520, 655, 803, 938, 1080, 1229, 1370], yield_ema_x, yield_ema, 4.735, yield_level, [843, 1364])
# top right
panel((1481, 28, 2878, 638), (1480, 26, 2942, 662), oil_bars, 1482, 2772, ((150, 107), (31, 620)), oil_ticks, '%.2f',
      [1563, 1712, 1849, 1990, 2128, 2271, 2405, 2553, 2696, 2838], oil_ema_x, oil_ema, 84.40, oil_level, [1827, 2827])
# bottom left
panel((9, 671, 1408, 1278), (8, 669, 1473, 1303), dxy_bars, 13.3, 1306, ((102, 714), (95.4, 1238)), dxy_ticks, '%.3f',
      [99, 243, 381, 512, 655, 800, 938, 1083, 1234, 1372], dxy_ema_x, dxy_ema, 99.625, dxy_level, [951, 1301])
# bottom right
panel((1481, 671, 2879, 1278), (1480, 669, 2942, 1303), vix_bars, 1480.5, 2773, ((24, 958), (13.3, 1216)), vix_ticks, '%.2f',
      [1569, 1715, 1851, 1981, 2128, 2269, 2414, 2557, 2698, 2840], vix_ema_x, vix_ema, 15.77, vix_level, None)

text(9, 15, 'irishborninvestor created with TradingView.com, Aug 18, 2026 13:55 UTC+1', fontsize=8.2)
title_row(18, 42, yield_title)
title_row(1486, 42, oil_title)
title_row(18, 683, dxy_title)
title_row(1486, 683, vix_title)


def unit_box(x0, y0, x1, y1, labels):
    fig.add_artist(FancyBboxPatch((x0 + 3, y0 + 3), x1 - x0 - 6, y1 - y0 - 6, boxstyle='round,pad=3', transform=px, fc='white', ec=LINE, lw=1.3))
    for s, y in labels:
        text(x0 + 9, y, s)


unit_box(1412, 31, 1470, 57, [('USD', 44)])
unit_box(2879, 31, 2937, 81, [('USD', 43), ('BLL', 70)])
unit_box(1412, 673, 1470, 700, [('USD', 686)])
unit_box(2879, 673, 2937, 700, [('USD', 686)])


def price_tag(x, y0, y1, color, value, width=43, clock=None):
    rect(x, y0, x + width, y1, fc=color, ec='none', zorder=6)
    if clock:
        text(x + 8, y0 + 8, value, zorder=7)
        text(x + 8, y0 + 23, clock, color='#3c3f4a', zorder=7)
    else:
        text(x + 8, (y0 + y1) / 2, value, zorder=7, color='white' if color == 'black' else INK, fontweight='bold' if color == 'black' else 'normal')


TAG_GREY = '#b2b5be'
TAG_BLUE = '#bbd9fb'
TAG_GREEN = '#a5d6a7'
price_tag(1409, 84, 115, TAG_GREY, '4.735', 60, '08:04:29')
price_tag(1409, 115, 132, TAG_BLUE, '4.729')
price_tag(1409, 132, 149, TAG_GREEN, '4.663')
price_tag(2876, 286, 317, TAG_GREY, '84.40', 60, '08:04:29')
price_tag(2876, 317, 334, TAG_BLUE, '84.35')
price_tag(2876, 334, 351, TAG_GREEN, '80.83')
price_tag(1409, 852, 870, TAG_GREEN, '100.088', 58)
price_tag(1409, 890, 921, TAG_GREY, '99.625', 60, '10:04:30')
price_tag(2879, 1030, 1047, 'black', '20.00')
price_tag(2879, 1116, 1133, TAG_GREEN, '15.91')
price_tag(2879, 1133, 1164, TAG_GREY, '15.77', 60, '07:20:29')

for x in [74, 223, 358, 487, 635, 783, 918, 1060, 1210, 1352]:
    arrow_icon(x, 622)
for x in [1510, 1644, 1774, 1924, 2058, 2201, 2337, 2487, 2623, 2772]:
    arrow_icon(x, 621)
bolt_icon(1303, 622)
bolt_icon(2772, 596)
bolt_icon(1307, 1237)
bolt_icon(2773, 1237)
flag_icon(1306, 1262)
flag_icon(2773, 1262)

for x, y in [(1442, 650), (2910, 649), (1442, 1289), (2910, 1289)]:
    fig.add_artist(Circle((x, y), 9.5, transform=px, fc=LINE, ec='none'))
    text(x, y, 'A', ha='center', fontsize=7.6)

# logo
fig.add_artist(Polygon([(12, 1327), (29, 1327), (29, 1342), (22, 1342), (22, 1334), (12, 1334)], transform=px, fc=INK, ec='none'))
fig.add_artist(Circle((33.5, 1330.5), 3.6, transform=px, fc=INK, ec='none'))
fig.add_artist(Polygon([(36, 1342), (29, 1342), (36, 1327), (43, 1327)], transform=px, fc=INK, ec='none'))
text(49, 1334, 'TradingView', fontsize=15, fontweight='bold', family='Lato')

fig.savefig('out.png', dpi=100)
